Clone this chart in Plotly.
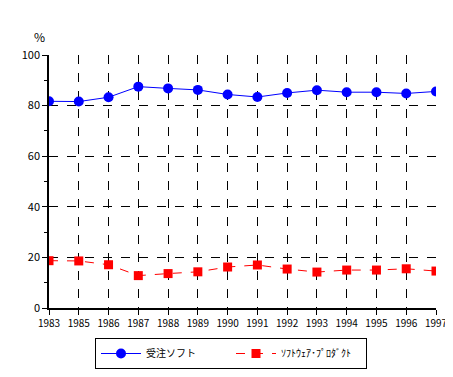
import plotly.graph_objects as go

years = ["1983", "1985", "1986", "1987", "1988", "1989", "1990", "1991",
         "1992", "1993", "1994", "1995", "1996", "1997"]
contract_software = [81.7, 81.6, 83.3, 87.5, 86.8, 86.2, 84.4, 83.4,
                     85.0, 86.1, 85.3, 85.3, 84.8, 85.6]
software_products = [18.7, 18.6, 17.1, 12.8, 13.6, 14.3, 16.2, 17.0,
                     15.4, 14.2, 15.0, 15.0, 15.5, 14.6]

FONT = "Noto Sans CJK JP"
W, H = 445, 361  # page body has an 8px margin on each side

fig = go.Figure()
fig.add_trace(go.Scatter(
    x=years, y=contract_software, name="受注ソフト", mode="lines+markers",
    line=dict(color="#0000ff", width=1),
    marker=dict(symbol="circle", size=10, color="#0000ff"),
))
fig.add_trace(go.Scatter(
    x=years, y=software_products, name="ｿﾌﾄｳｪｱ･ﾌﾟﾛﾀﾞｸﾄ", mode="lines+markers",
    line=dict(color="#ff0000", width=1, dash="dash"),
    marker=dict(symbol="square", size=9, color="#ff0000"),
))

fig.update_layout(
    width=W, height=H,
    margin=dict(l=41, r=17, t=47, b=61, autoexpand=False),
    paper_bgcolor="white", plot_bgcolor="white",
    font=dict(family=FONT, size=11, color="black"),
    showlegend=True,
    legend=dict(
        orientation="h", xref="container", yref="container",
        x=87 / W, xanchor="left", y=0.0, yanchor="bottom",
        bordercolor="black", borderwidth=1, bgcolor="white",
        font=dict(family=FONT, size=10),
        entrywidth=80, entrywidthmode="pixels",
        itemwidth=40,
    ),
    annotations=[dict(
        text="%", xref="paper", yref="paper", x=-0.005, y=1.03,
        xanchor="right", yanchor="bottom", showarrow=False,
        font=dict(family=FONT, size=12),
    )],
)
fig.update_xaxes(
    type="category", range=[0, 13],
    showline=True, linecolor="black", linewidth=1.5,
    ticks="outside", ticklen=5, tickcolor="black",
    showgrid=True, gridcolor="black", griddash="dash", gridwidth=1,
    tickfont=dict(family=FONT, size=10),
    zeroline=False,
)
fig.update_yaxes(
    range=[0, 100], dtick=20, tick0=0,
    showline=True, linecolor="black", linewidth=1.5,
    ticks="outside", ticklen=5, tickcolor="black",
    minor=dict(dtick=10, ticks="outside", ticklen=3, tickcolor="black", showgrid=False),
    showgrid=True, gridcolor="black", griddash="dash", gridwidth=1,
    tickfont=dict(family=FONT, size=11),
    zeroline=False,
)

fig.write_html("out.html")
